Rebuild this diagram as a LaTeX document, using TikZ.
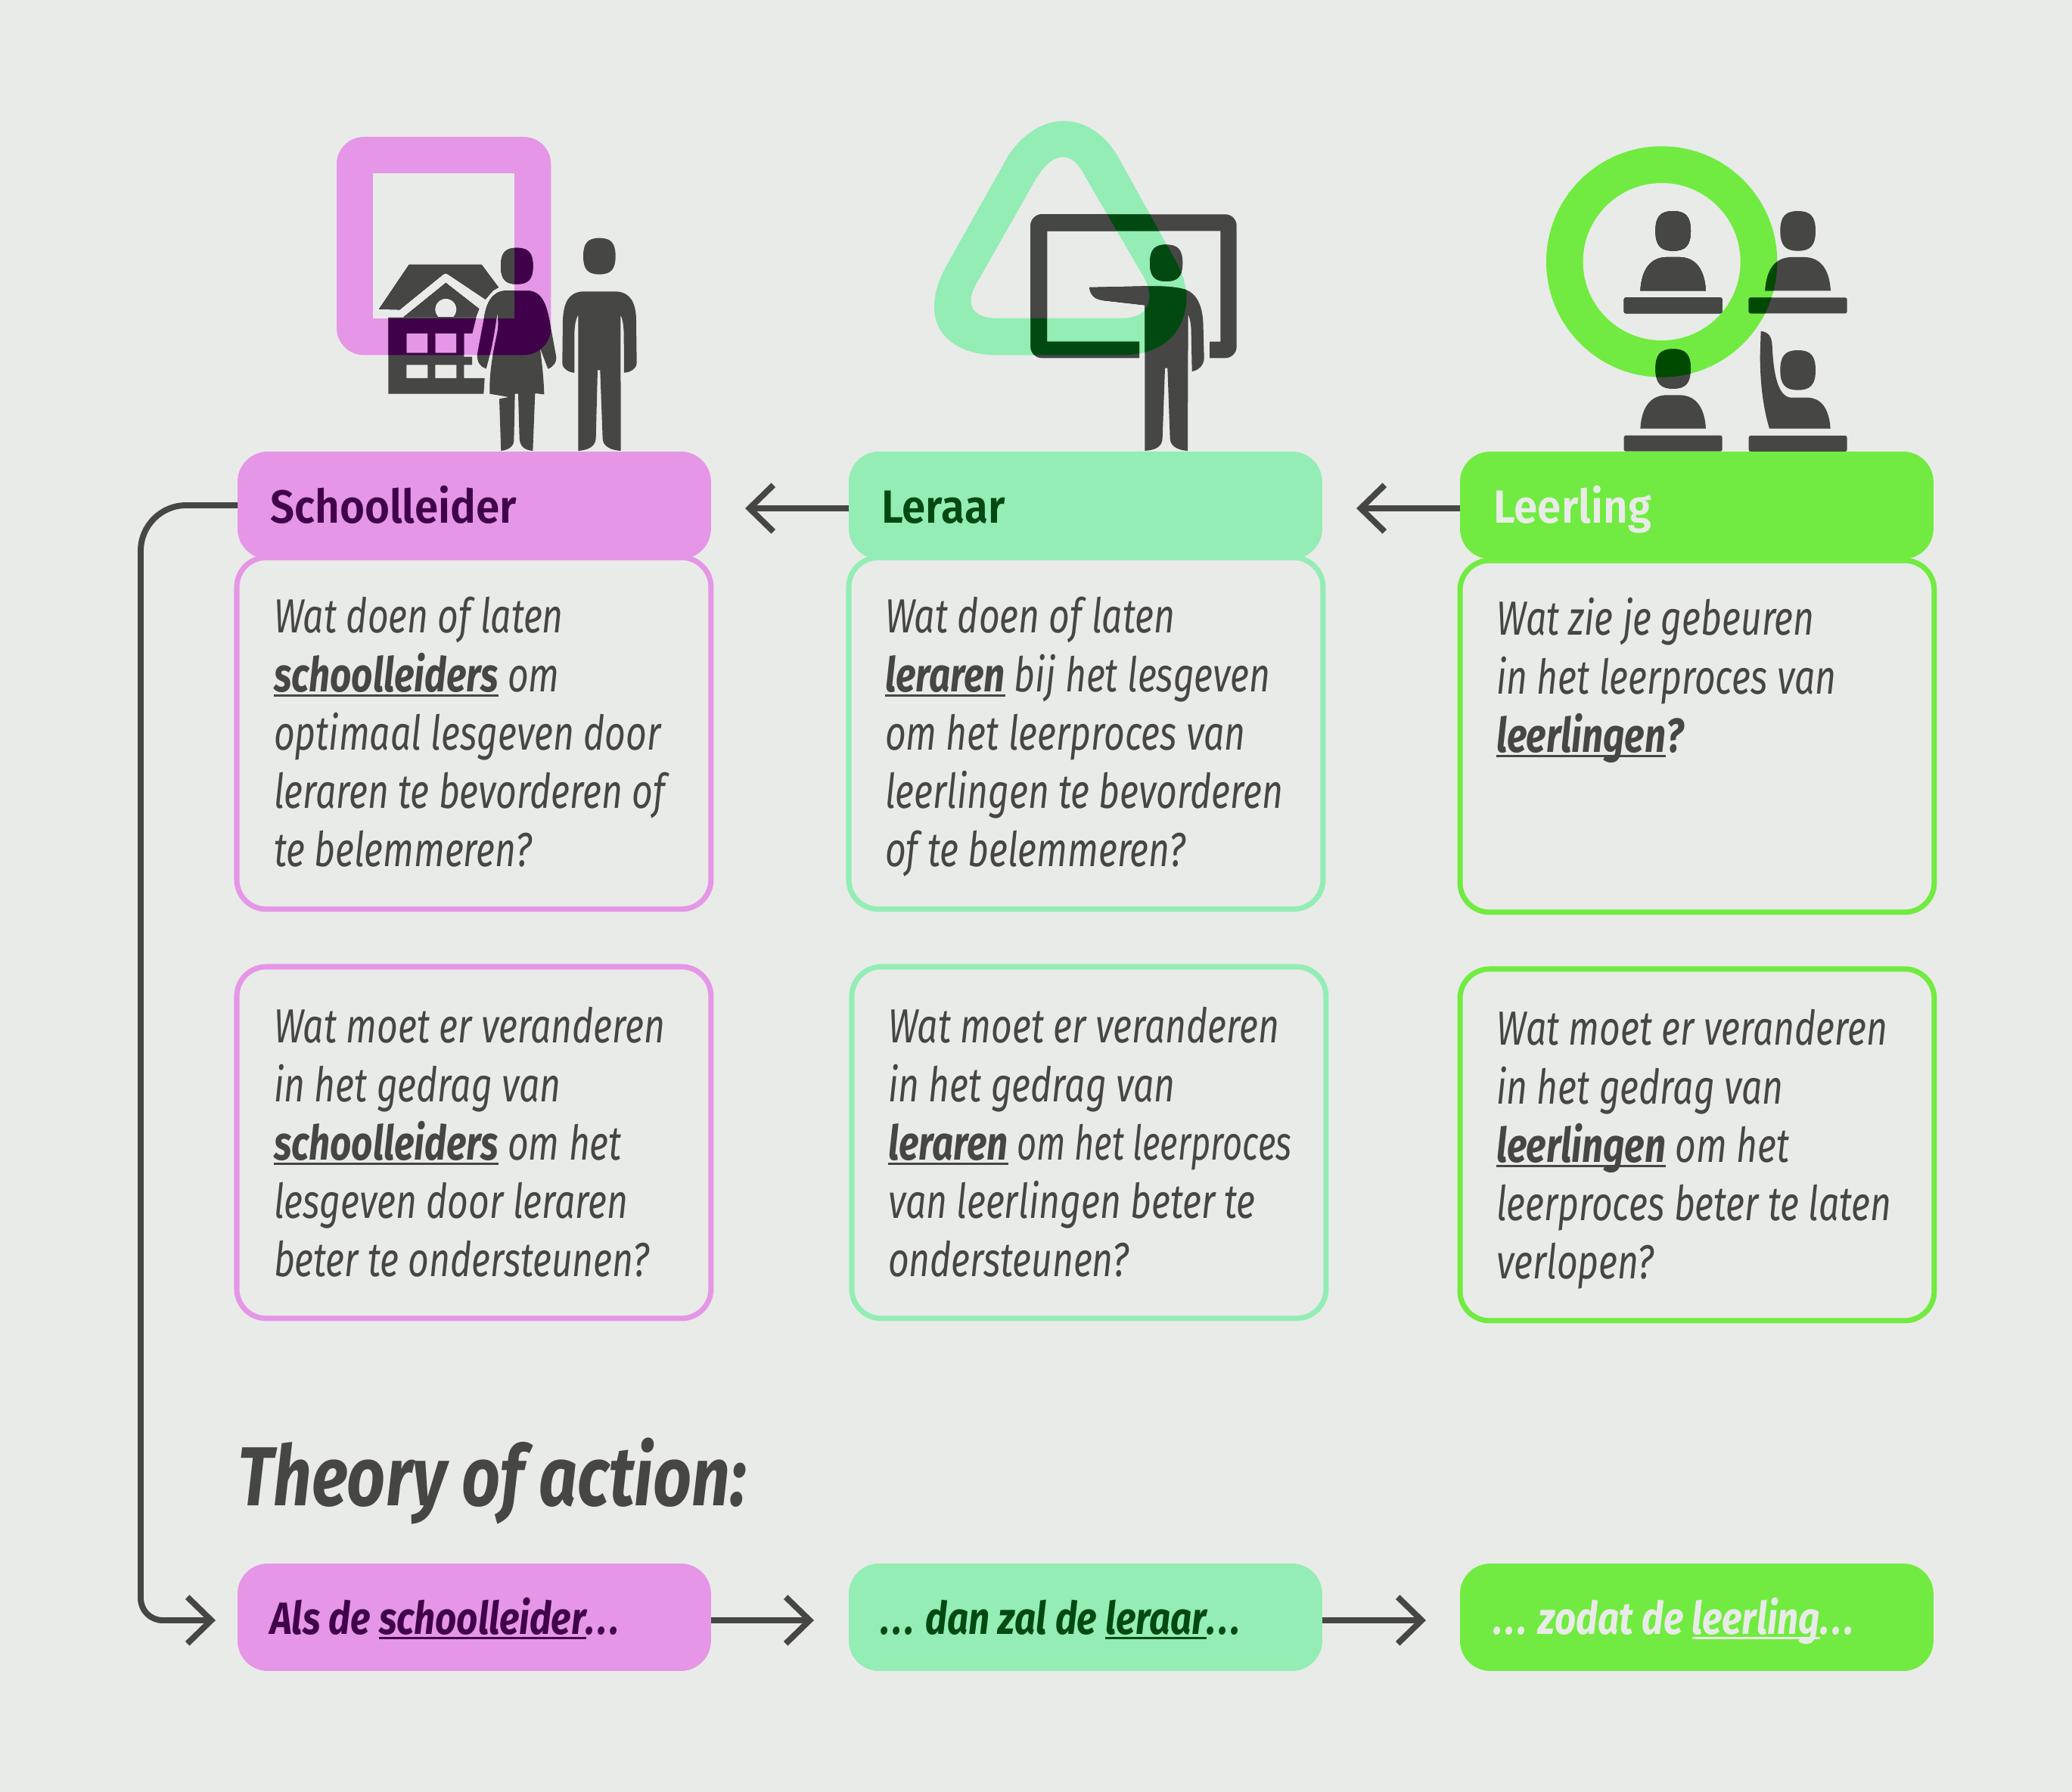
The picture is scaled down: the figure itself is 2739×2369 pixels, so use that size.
\documentclass[tikz,border=0pt]{standalone}
\usepackage{fontspec}
\usetikzlibrary{arrows.meta}
\setmainfont{Fira Sans}[FakeStretch=.8]
\newfontfamily\bookf{Fira Sans}[FakeStretch=.76]
\newfontfamily\tightf{Fira Sans}[FakeStretch=.715]
\newfontfamily\hdrf{Fira Sans SemiBold}[FakeStretch=.92]
\newfontfamily\footf{Fira Sans}[FakeStretch=.825]
\newfontfamily\titlef{Fira Sans}[FakeStretch=.805]
\newfontfamily\ulf{Fira Sans}[FakeStretch=.78]
\definecolor{bgc}{HTML}{E9EBE8}
\definecolor{ink}{HTML}{464644}
\definecolor{pinkc}{HTML}{E596E6}
\definecolor{pinkd}{HTML}{40004A}
\definecolor{mintc}{HTML}{93EDB5}
\definecolor{mintd}{HTML}{004A12}
\definecolor{limec}{HTML}{71EB41}
\definecolor{limed}{HTML}{004A00}
\newcommand\bodyset{\bookf\itshape\fontsize{36}{44}\selectfont}
\newcommand\lead{\rule{0pt}{30pt}}
\newcommand\ulb[1]{\leavevmode\setbox0\hbox{\ulf\bfseries\itshape #1}\rlap{\rule[-4pt]{\wd0}{2pt}}\box0\relax}
\newcommand\ulc[1]{\leavevmode\setbox0\hbox{#1}\rlap{\rule[-4pt]{\wd0}{1.6pt}}\box0\relax}
\newcommand\dts{.\kern2.5pt.\kern2.5pt.}
\newcommand\headf[5]{\fill[#5] (#1-#3,#2) .. controls (#1-#3,#2-0.72*#4) and (#1-0.72*#3,#2-#4) .. (#1,#2-#4) .. controls (#1+0.72*#3,#2-#4) and (#1+#3,#2-0.72*#4) .. (#1+#3,#2) .. controls (#1+#3,#2+0.72*#4) and (#1+0.72*#3,#2+#4) .. (#1,#2+#4) .. controls (#1-0.72*#3,#2+#4) and (#1-#3,#2+0.72*#4) .. cycle;}
% icon 1
\newcommand\iconA[1]{%
 \fill[#1] (243,776) -- (362,600) -- (650,600) -- (717,690) -- (695,702) -- (665,737) -- (520,640) .. controls (510,633) and (505,633) .. (495,640) -- (325,778) -- cycle;
 \fill[#1,even odd rule] (340,808) -- (508,672) -- (640,775) -- (627,808) -- cycle (551,777) arc[start angle=0,end angle=360,radius=43];
 \fill[#1,even odd rule] (280,810) -- (628,810) -- (613,872) -- (580,872) -- (580,965) -- (612,965) -- (612,997) -- (580,997) -- (580,1050) -- (662,1050) -- (658,1112) -- (280,1112) -- cycle
   (352,872) rectangle (436,950) (466,872) rectangle (550,950) (352,997) rectangle (436,1050) (466,997) rectangle (550,1050);
 \headf{790}{605}{64}{72}{#1}
 \fill[#1] (745,703) -- (835,703) .. controls (885,705) and (905,750) .. (918,815) -- (945,960) .. controls (950,985) and (935,1005) .. (913,1013) -- (872,905) .. controls (860,870) and (858,830) .. (866,790) .. controls (875,900) and (895,1000) .. (898,1114) -- (862,1110) -- (853,1338) .. controls (825,1335) and (803,1325) .. (800,1290) -- (795,1112) -- (782,1112) -- (778,1300) .. controls (775,1325) and (750,1335) .. (727,1338) -- (720,1132) -- (757,1125) -- (720,1118) -- (682,1112) .. controls (680,1020) and (695,950) .. (712,870) .. controls (718,840) and (716,815) .. (712,790) .. controls (705,840) and (695,920) .. (668,1012) .. controls (645,1005) and (630,985) .. (633,955) -- (660,810) .. controls (668,755) and (690,705) .. (745,703) -- cycle;
 \headf{1117}{566}{64}{72}{#1}
 \fill[#1] (1050,706) -- (1185,706) .. controls (1240,710) and (1262,750) .. (1263,820) -- (1265,990) .. controls (1265,1010) and (1240,1028) .. (1215,1028) -- (1214,880) .. controls (1214,850) and (1210,815) .. (1201,800) -- (1202,1338) .. controls (1160,1335) and (1132,1320) .. (1130,1290) -- (1120,1018) -- (1110,1018) -- (1103,1290) .. controls (1100,1320) and (1075,1335) .. (1033,1338) -- (1033,800) .. controls (1022,815) and (1018,850) .. (1018,880) -- (1018,1028) .. controls (995,1028) and (970,1010) .. (970,990) -- (972,820) .. controls (975,750) and (995,710) .. (1050,706) -- cycle;
}
% icon 2
\newcommand\iconB[1]{%
 \fill[#1,rounded corners=.3cm] (918,905) [sharp corners] -- (552,905) -- (552,466) -- (1240,466) -- (1240,905) -- (1197,905) -- (1197,970) [rounded corners=.3cm] -- (1304,970) -- (1304,400) -- (487,400) -- (487,970) [sharp corners] -- (918,970) -- cycle;
 \headf{1025}{593}{65}{73}{#1}
 \fill[#1] (720,690) -- (950,685) .. controls (1000,684) and (1060,686) .. (1100,698) .. controls (1150,715) and (1172,770) .. (1172,850) -- (1175,970) .. controls (1175,1000) and (1150,1020) .. (1127,1023) -- (1124,870) .. controls (1124,840) and (1120,815) .. (1112,797) -- (1110,1338) .. controls (1070,1335) and (1042,1320) .. (1040,1290) -- (1030,1010) -- (1020,1010) -- (1010,1290) .. controls (1008,1320) and (985,1335) .. (940,1338) -- (940,760) -- (780,742) .. controls (745,738) and (725,725) .. (720,690) -- cycle;
}
\newcommand\deskp[3]{%
 \headf{#2}{#3-237}{70}{79}{#1}
 \fill[#1] (#2-130,#3) .. controls (#2-125,#3-85) and (#2-90,#3-130) .. (#2-30,#3-133) -- (#2+30,#3-133) .. controls (#2+90,#3-130) and (#2+125,#3-85) .. (#2+130,#3) -- cycle;
 \fill[#1,rounded corners=.05cm] (#2-195,#3+27) rectangle (#2+195,#3+90);
}
\newcommand\iconC[1]{%
 \deskp{#1}{575}{643}
 \deskp{#1}{1070}{643}
 \deskp{#1}{575}{1190}
 \headf{1070}{958}{70}{79}{#1}
 \fill[#1] (923,803) .. controls (955,808) and (966,825) .. (968,860) .. controls (972,950) and (985,1060) .. (1040,1067) -- (1110,1067) .. controls (1175,1070) and (1195,1130) .. (1199,1190) -- (957,1190) .. controls (930,1100) and (920,1000) .. (920,900) -- cycle;
 \fill[#1,rounded corners=.05cm] (875,1218) rectangle (1265,1281);
}
\newcommand\triOuter{(615,30) .. controls (720,30) and (790,100) .. (830,165) -- (1060,580) .. controls (1095,640) and (1108,700) .. (1105,745) .. controls (1095,880) and (1000,958) .. (850,958) -- (350,958) .. controls (200,958) and (105,880) .. (105,770) .. controls (105,700) and (130,650) .. (150,610) -- (400,165) .. controls (450,90) and (530,30) .. (615,30) -- cycle}
\newcommand\triInner{(617,173) .. controls (560,173) and (520,240) .. (500,275) -- (270,680) .. controls (230,750) and (250,810) .. (350,812) -- (850,812) .. controls (960,812) and (985,730) .. (930,640) -- (700,245) .. controls (690,225) and (660,173) .. (617,173) -- cycle}
\tikzset{
 hdr/.style={anchor=north west,minimum width=12.52cm,minimum height=2.84cm,rounded corners=.8cm,inner sep=0pt,outer sep=0pt},
 bodybox/.style={anchor=north west,minimum width=12.54cm,minimum height=9.3cm,rounded corners=.78cm,line width=4pt,fill=bgc,inner sep=0pt,outer sep=0pt},
 bodytext/.style={anchor=north west,align=left,inner sep=0pt,outer sep=0pt,text=ink,font=\bodyset},
 hdrtext/.style={anchor=base west,inner sep=0pt,font=\hdrf\fontsize{35}{40}\selectfont},
 foottext/.style={anchor=base west,inner sep=0pt,font=\footf\fontsize{34}{40}\selectfont\bfseries\itshape},
 arr/.style={draw=ink,line width=4.5pt,-{Straight Barb[length=18pt,width=35pt,line width=4.5pt]}},
}
\begin{document}
\begin{tikzpicture}[x=0.02cm,y=-0.02cm]
\useasboundingbox (0,0) rectangle (2739,2369);
\fill[bgc] (0,0) rectangle (2739,2369);
% icons
\begin{scope}[shift={(420,150)},scale=1/3]
 \fill[pinkc,rounded corners=.72cm] (75,93) rectangle (925,958);
 \fill[bgc] (218,237) rectangle (780,812);
 \iconA{ink}
 \begin{scope}\clip[rounded corners=.72cm] (75,93) rectangle (925,958);\iconA{pinkd}\end{scope}
 \begin{scope}\clip (218,237) rectangle (780,812);\iconA{ink}\end{scope}
\end{scope}
\begin{scope}[shift={(1200,150)},scale=1/3]
 \fill[mintc] \triOuter;
 \fill[bgc] \triInner;
 \iconB{ink}
 \begin{scope}\clip \triOuter;\iconB{mintd}\end{scope}
 \begin{scope}\clip \triInner;\iconB{ink}\end{scope}
\end{scope}
\begin{scope}[shift={(2020,170)},scale=1/3]
 \fill[limec] (530,528) circle[radius=458];
 \fill[bgc] (530,528) circle[radius=312];
 \iconC{ink}
 \begin{scope}\clip (530,528) circle[radius=458];\iconC{limed}\end{scope}
 \begin{scope}\clip (530,528) circle[radius=312];\iconC{ink}\end{scope}
\end{scope}
% body boxes row 1
\node[bodybox,draw=pinkc] (b11) at (313,737) {};
\node[bodybox,draw=mintc] (b12) at (1122,737) {};
\node[bodybox,draw=limec] (b13) at (1930,741) {};
% row 2
\node[bodybox,draw=pinkc] (b21) at (313,1278) {};
\node[bodybox,draw=mintc] (b22) at (1126,1278) {};
\node[bodybox,draw=limec] (b23) at (1930,1281) {};
% headers
\node[hdr,fill=pinkc] (h1) at (314,597) {};
\node[hdr,fill=mintc] (h2) at (1122,597) {};
\node[hdr,fill=limec] (h3) at (1930,597) {};
\node[hdrtext,text=pinkd] (h1t) at (357,691) {Schoolleider};
\node[hdrtext,text=mintd] (h2t) at (1165,691) {Leraar};
\node[hdrtext,text=bgc] (h3t) at (1974,691) {Leerling};
% body text
\node[bodytext] (t11) at (362,784) {\lead Wat doen of laten\\\ulb{schoolleiders} om\\optimaal lesgeven door\\leraren te bevorderen of\\te belemmeren?};
\node[bodytext] (t12) at (1170,784) {\lead Wat doen of laten\\\ulb{leraren} bij het lesgeven\\om het leerproces van\\leerlingen te bevorderen\\of te belemmeren?};
\node[bodytext] (t13) at (1978,787) {\lead Wat zie je gebeuren\\in het leerproces van\\\ulb{leerlingen}{\ulf\bfseries\itshape ?}};
\node[bodytext] (t21) at (362,1326) {\lead Wat moet er veranderen\\in het gedrag van\\\ulb{schoolleiders} om het\\lesgeven door leraren\\beter te ondersteunen?};
\node[bodytext] (t22) at (1174,1326) {\lead Wat moet er veranderen\\in het gedrag van\\\ulb{leraren}{\tightf\itshape\ om het leerproces}\\van leerlingen beter te\\ondersteunen?};
\node[bodytext] (t23) at (1978,1329) {\lead Wat moet er veranderen\\in het gedrag van\\\ulb{leerlingen} om het\\leerproces beter te laten\\verlopen?};
% title
\node[anchor=base west,inner sep=0pt,text=ink,font=\titlef\fontsize{63}{70}\selectfont\bfseries\itshape] (title) at (314,1990) {Theory of action:};
% footer
\node[hdr,fill=pinkc] (f1) at (314,2067) {};
\node[hdr,fill=mintc] (f2) at (1122,2067) {};
\node[hdr,fill=limec] (f3) at (1930,2067) {};
\node[foottext,text=pinkd] (f1t) at (357,2160) {Als de \ulc{schoolleider}\dts};
\node[foottext,text=mintd] (f2t) at (1164,2160) {\dts{} dan zal de \ulc{leraar}\dts};
\node[foottext,text=bgc] (f3t) at (1974,2160) {\dts{} zodat de \ulc{leerling}\dts};
% connectors
\coordinate (a1) at (985,672);
\coordinate (a2) at (1793,672);
\draw[arr] (h2.west |- a1) -- (a1);
\draw[arr] (h3.west |- a2) -- (a2);
\coordinate (c1) at (186,668);
\coordinate (c1a) at (186,728);
\coordinate (c2) at (186,2142);
\coordinate (c3) at (285,2142);
\draw[arr] (h1.west |- c1) -- (246,668) .. controls (213,668) and (186,695) .. (c1a) -- (186,2113) .. controls (186,2129) and (199,2142) .. (215,2142) -- (c3);
\coordinate (d1) at (1076,2142);
\coordinate (d2) at (1885,2142);
\draw[arr] (f1.east |- d1) -- (d1);
\draw[arr] (f2.east |- d2) -- (d2);
\end{tikzpicture}
\end{document}
